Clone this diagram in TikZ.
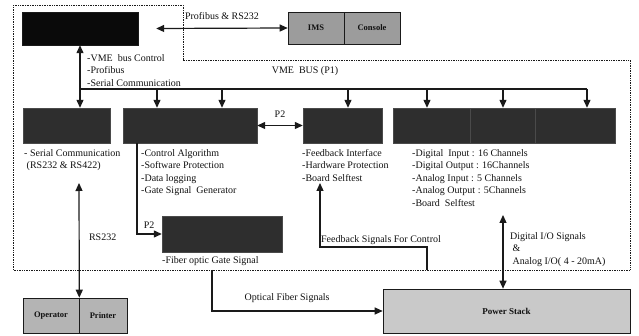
\documentclass[tikz,border=0pt]{standalone}
\usepackage{fontspec}
\setmainfont{Liberation Serif}
\usetikzlibrary{positioning, arrows.meta, calc}
\definecolor{clrhost}{HTML}{0A0A0A}
\definecolor{clrboard}{HTML}{2E2E2E}
\definecolor{clrboard_edge}{HTML}{4A4A4A}
\definecolor{clrterm}{HTML}{9C9C9C}
\definecolor{clrperiph}{HTML}{B4B4B4}
\definecolor{clrstack}{HTML}{C9C9C9}
\definecolor{clrborder}{HTML}{1A1A1A}
\definecolor{clrtext}{HTML}{111111}

\begin{document}
\begin{tikzpicture}[
    x=1pt, y=-1pt,
    every node/.style={font=\fontsize{10}{12.5}\selectfont, text=clrtext},
    board/.style={draw=clrboard_edge, fill=clrboard, minimum height=35pt, inner sep=0},
    greybox/.style={draw=clrborder, line width=0.6pt, minimum height=32pt, inner sep=0,
                    font=\fontsize{8.5}{9}\selectfont\bfseries},
    arrow/.style={-{Triangle[length=8pt, width=7pt]}, line width=1.2pt, color=clrborder},
    dblarrow/.style={{Triangle[length=8pt, width=7pt]}-{Triangle[length=8pt, width=7pt]},
                     line width=1.2pt, color=clrborder},
    busline/.style={line width=1.2pt, color=clrborder},
    boundary/.style={densely dotted, line width=0.7pt, color=clrborder},
    label/.style={inner sep=0, align=left, anchor=north west},
]
\useasboundingbox (0,0) rectangle (639,336);

% controller cabinet
\draw[boundary] (13,5) -- (183,5) -- (183,60) -- (630,60) -- (630,270) -- (13,270) -- cycle;

% host and terminals
\node[draw=clrborder, fill=clrhost, minimum width=116pt, minimum height=33pt] (n_main) at (80,28.5) {};
\node[greybox, fill=clrterm, minimum width=56pt] (n_ims) at (316,28) {IMS};
\node[greybox, fill=clrterm, minimum width=56pt] (n_console) at (372,28) {Console};
\draw[dblarrow] ([xshift=18pt]n_main.east) -- node[above=5pt] {Profibus \& RS232} (n_ims.west);
\node[label] (t_main) at (87,54) {-VME\ \ bus Control\\-Profibus\\-Serial Communication};

% VME boards
\node[board, minimum width=87pt] (n_serial) at (66.5,125.5) {};
\node[board, minimum width=134pt] (n_cpu) at (190,125.5) {};
\node[board, minimum width=79pt] (n_fb) at (342.5,125.5) {};
\node[board, minimum width=77pt] (n_dio) at (431.5,125.5) {};
\node[board, minimum width=65pt] (n_aio) at (502.5,125.5) {};
\node[board, minimum width=80pt] (n_sys) at (575,125.5) {};

% VME bus (P1)
\coordinate (bus_l) at (80,89);
\coordinate (bus_r) at (587,89);
\draw[busline] (bus_l) -- (bus_r);
\node[inner sep=0] (t_bus) at (305,71) {VME\ \ BUS (P1)};
\foreach \bx/\tgt in {157/n_cpu, 222/n_cpu, 348/n_fb, 427/n_dio, 503/n_aio, 587/n_sys}
    \draw[arrow] (\bx,89) -- (\bx,89 |- \tgt.north);
\draw[dblarrow] (n_main.south) -- (n_main.south |- n_serial.north);

\node[label] (t_serial) at (24,149) {- Serial Communication\\\ (RS232 \& RS422)};
\node[label] (t_cpu) at (141,149) {-Control Algorithm\\-Software Protection\\-Data logging\\-Gate Signal\ \ Generator};
\node[label] (t_fb) at (302,149) {-Feedback Interface\\-Hardware Protection\\-Board Selftest};
\node[label] (t_io) at (412,149) {-Digital\ \ Input : 16 Channels\\-Digital Output : 16Channels\\-Analog Input : 5 Channels\\-Analog Output : 5Channels\\-Board\ \ Selftest};

\draw[dblarrow] (n_cpu.east) -- node[above=4pt] {P2} (n_fb.west);

% gate signal board
\node[board, minimum width=120pt, minimum height=36pt] (n_gate) at (222,234) {};
\node[label] (t_gate) at (162,256) {-Fiber optic Gate Signal};
\draw[arrow] ([xshift=-53pt]n_cpu.south) |- node[pos=0.45, right=3pt] {P2} (n_gate.west);

% operator side
\node[greybox, fill=clrperiph, minimum width=56pt, minimum height=35pt] (n_oper) at (51,315.5) {Operator};
\node[greybox, fill=clrperiph, minimum width=48pt, minimum height=35pt] (n_print) at (103,315.5) {Printer};
\coordinate (rs_top) at (79,183);
\draw[dblarrow] (rs_top) -- node[pos=0.47, right=6pt] {RS232} (n_oper.north east);

% power stack
\node[greybox, fill=clrstack, minimum width=247pt, minimum height=44pt, font=\fontsize{9}{10}\selectfont\bfseries] (n_power) at (506.5,311) {Power Stack};
\coordinate (fib_start) at (212,270);
\draw[arrow] (fib_start) |- node[pos=0.72, above=4pt] {Optical Fiber Signals} (n_power.west);
\coordinate (fb_start) at (427,270);
\coordinate (fb_top) at (320,183);
\draw[arrow] (fb_start) -- ++(0,-23) -| (fb_top);
\node[inner sep=0] (t_fbsig) at (381,240) {Feedback Signals For Control};
\coordinate (dio_top) at (503,215);
\draw[dblarrow] (dio_top) -- (dio_top |- n_power.north);
\node[label] (t_dio) at (510,232) {Digital I/O Signals\\\ \&\\\ Analog I/O( 4 - 20mA)};
\end{tikzpicture}
\end{document}
